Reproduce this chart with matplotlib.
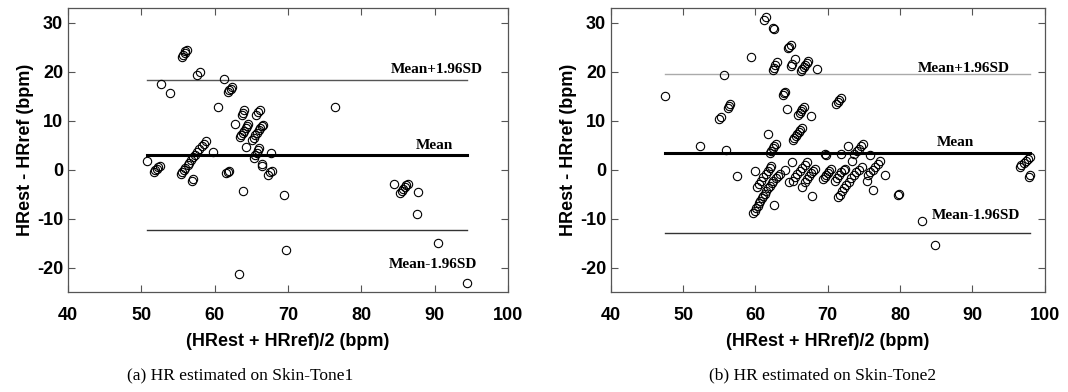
import matplotlib.pyplot as plt

plt.rcParams['axes.unicode_minus'] = False

# Bland-Altman data, skin tone 1
x_a = [52.7, 53.9, 55.5, 55.7, 55.9, 56.0, 56.2, 57.6, 58.0, 61.2,
       61.8, 62.0, 62.2, 62.4, 60.4, 63.7, 63.9, 64.0, 65.6, 65.9, 66.2,
       62.7, 63.4, 63.6, 63.8, 64.0, 64.2, 64.4, 64.5,
       65.1, 65.3, 65.5, 65.8, 66.0, 66.2, 66.4, 66.6,
       64.3, 65.3, 65.5, 65.7, 65.9, 66.1, 67.7, 59.7, 76.4,
       55.4, 55.6, 55.8, 56.0, 56.3, 56.5, 56.8, 57.0, 57.3, 57.6, 57.9, 58.2, 58.5, 58.8,
       50.8, 51.7, 51.9, 52.1, 52.3, 52.5, 56.9, 57.0,
       61.6, 61.8, 62.0, 63.9, 69.4, 66.4, 66.5, 67.3, 67.6, 67.8,
       69.7, 63.3, 84.4, 85.3, 85.5, 85.7, 85.9, 86.1, 86.3,
       87.7, 87.6, 90.5, 94.4]
y_a = [17.4, 15.7, 23.0, 23.4, 23.8, 24.1, 24.4, 19.3, 20.0, 18.5,
       15.8, 16.2, 16.5, 16.8, 12.8, 11.1, 11.6, 12.1, 11.2, 11.7, 12.1,
       9.3, 6.6, 7.0, 7.4, 7.9, 8.4, 8.9, 9.3,
       6.0, 6.5, 7.0, 7.5, 8.0, 8.4, 8.8, 9.1,
       4.7, 2.4, 2.9, 3.4, 3.9, 4.3, 3.3, 3.5, 12.8,
       -1.0, -0.6, -0.1, 0.4, 0.9, 1.4, 2.0, 2.5, 3.0, 3.6, 4.2, 4.8, 5.3, 5.9,
       1.8, -0.4, -0.1, 0.2, 0.5, 0.7, -2.3, -2.0,
       -0.8, -0.5, -0.2, -4.3, -5.2, 0.8, 1.2, -1.2, -0.6, -0.3,
       -16.5, -21.4, -2.9, -4.8, -4.4, -4.0, -3.6, -3.2, -2.9,
       -4.6, -9.0, -14.9, -23.1]

# Bland-Altman data, skin tone 2
x_b = [47.5, 55.6, 59.4, 61.2, 61.5, 62.5, 62.6,
       52.3, 55.0, 55.2, 56.2, 56.4, 56.5, 55.9,
       62.4, 62.6, 62.7, 63.0, 64.5, 64.7, 64.9, 64.9, 65.0, 65.5,
       66.3, 66.5, 66.7, 66.9, 67.1, 67.3, 68.5,
       63.8, 64.0, 64.1, 64.4, 65.9, 66.1, 66.3, 66.5, 66.7, 67.7,
       71.2, 71.4, 71.6, 71.8, 61.8,
       65.2, 65.4, 65.6, 65.8, 66.0, 66.2, 66.4,
       62.0, 62.2, 62.4, 62.6, 62.8, 57.5, 60.0,
       60.2, 60.5, 60.8, 61.1, 61.4, 61.7, 62.0, 62.2,
       59.7, 59.9, 60.1, 60.3, 60.5, 60.7, 60.9, 61.1, 61.3, 61.5, 61.8, 62.0,
       62.3, 62.5, 62.8, 63.1, 63.4,
       62.6, 64.1, 65.0,
       65.2, 65.5, 65.8, 66.1, 66.4, 66.8, 67.1, 64.7, 66.4,
       66.8, 67.1, 67.4, 67.7, 68.0, 68.2, 67.8,
       69.4, 69.6, 69.8, 70.0, 70.2, 70.5, 69.6, 69.7,
       71.0, 71.3, 71.6, 71.9, 72.2, 72.4,
       71.4, 71.7, 72.0, 72.3, 72.6, 72.9, 73.2, 73.6, 73.9, 74.3, 74.7,
       71.9, 72.8, 73.3, 73.7, 74.0, 74.3, 74.6, 74.9, 75.8,
       75.6, 75.9, 76.3, 76.6, 76.9, 77.2, 75.4, 76.3, 77.9,
       79.7, 79.8, 83.1, 84.8,
       96.6, 96.8, 97.1, 97.4, 97.7, 98.0, 97.8, 98.0]
y_b = [15.1, 19.2, 22.9, 30.6, 31.2, 28.9, 28.7,
       4.8, 10.3, 10.7, 12.5, 12.9, 13.3, 4.0,
       20.3, 20.8, 21.3, 21.9, 24.8, 25.1, 25.5, 21.2, 21.6, 22.5,
       20.2, 20.6, 21.0, 21.4, 21.8, 22.2, 20.5,
       15.2, 15.6, 15.9, 12.4, 11.1, 11.5, 11.9, 12.3, 12.8, 10.9,
       13.4, 13.8, 14.2, 14.6, 7.2,
       6.0, 6.4, 6.8, 7.2, 7.6, 8.0, 8.4,
       3.4, 3.8, 4.3, 4.8, 5.2, -1.4, -0.3,
       -3.6, -2.9, -2.3, -1.6, -0.9, -0.2, 0.4, 0.8,
       -8.8, -8.4, -7.9, -7.4, -6.9, -6.4, -5.9, -5.4, -4.9, -4.4, -3.8, -3.3,
       -2.8, -2.3, -1.8, -1.3, -0.9,
       -7.2, -0.1, 1.5,
       -2.3, -1.6, -1.0, -0.3, 0.4, 1.0, 1.5, -2.6, -3.6,
       -2.6, -2.0, -1.4, -0.8, -0.3, 0.1, -5.3,
       -1.9, -1.5, -1.1, -0.7, -0.3, 0.1, 3.2, 3.0,
       -2.3, -1.7, -1.1, -0.6, -0.1, 0.1,
       -5.7, -5.1, -4.4, -3.8, -3.1, -2.5, -1.8, -1.2, -0.6, 0.0, 0.5,
       3.2, 4.9, 1.8, 3.2, 3.7, 4.2, 4.8, 5.3, 2.9,
       -1.2, -0.6, 0.0, 0.6, 1.2, 1.8, -2.3, -4.2, -1.2,
       -5.2, -4.9, -10.6, -15.3,
       0.5, 0.9, 1.3, 1.7, 2.1, 2.5, -1.5, -1.1]

# mean and limits of agreement
mean_a, upper_a, lower_a = 3.0, 18.2, -12.4
mean_b, upper_b, lower_b = 3.3, 19.6, -13.0

captions = ["(a) HR estimated on Skin-Tone1", "(b) HR estimated on Skin-Tone2"]

fig = plt.figure(figsize=(10.68, 3.92), dpi=100)
ax1 = fig.add_axes([0.0637, 0.255, 0.412, 0.725])
ax2 = fig.add_axes([0.572, 0.255, 0.406, 0.725])

panels = [
    (ax1, x_a, y_a, mean_a, upper_a, lower_a, "#555555",
     [(96.5, 20.5), (92.5, 4.9), (95.8, -19.3)]),
    (ax2, x_b, y_b, mean_b, upper_b, lower_b, "#aaaaaa",
     [(95.2, 20.7), (90.3, 5.6), (96.6, -9.4)]),
]

for ax, xs, ys, m, up, lo, upcol, txt in panels:
    ax.plot(xs, ys, "o", markerfacecolor="none", markeredgecolor="black",
            markersize=6, markeredgewidth=0.8, zorder=3)
    x0, x1 = min(xs), max(xs)
    ax.plot([x0, x1], [up, up], color=upcol, linewidth=1)
    ax.plot([x0, x1], [m, m], color="black", linewidth=2.2)
    ax.plot([x0, x1], [lo, lo], color="#333333", linewidth=1)
    labels = ["Mean+1.96SD", "Mean", "Mean-1.96SD"]
    for (tx, ty), s in zip(txt, labels):
        ax.text(tx, ty, s, ha="right", va="center", fontsize=11,
                fontweight="bold", family="Liberation Serif")
    ax.set_xlim(40, 100)
    ax.set_ylim(-25, 33)
    ax.set_xticks([40, 50, 60, 70, 80, 90, 100])
    ax.set_yticks([-20, -10, 0, 10, 20, 30])
    ax.tick_params(direction="in", top=True, right=True, length=5, width=0.8,
                   labelsize=13, color="#555555")
    ax.tick_params(axis="x", pad=11)
    for lab in ax.get_xticklabels() + ax.get_yticklabels():
        lab.set_fontweight("bold")
        lab.set_family("Liberation Sans")
    for sp in ax.spines.values():
        sp.set_color("#555555")
        sp.set_linewidth(0.9)
    ax.set_xlabel("(HRest + HRref)/2 (bpm)", fontsize=13, fontweight="bold",
                  family="Liberation Sans", labelpad=6)
    ax.set_ylabel("HRest - HRref (bpm)", fontsize=13, fontweight="bold",
                  family="Liberation Sans", labelpad=2)

fig.text(0.225, 0.043, captions[0], ha="center", va="center", fontsize=12.5,
         family="Liberation Serif")
fig.text(0.77, 0.043, captions[1], ha="center", va="center", fontsize=12.5,
         family="Liberation Serif")

plt.savefig("out.png", dpi=100)
